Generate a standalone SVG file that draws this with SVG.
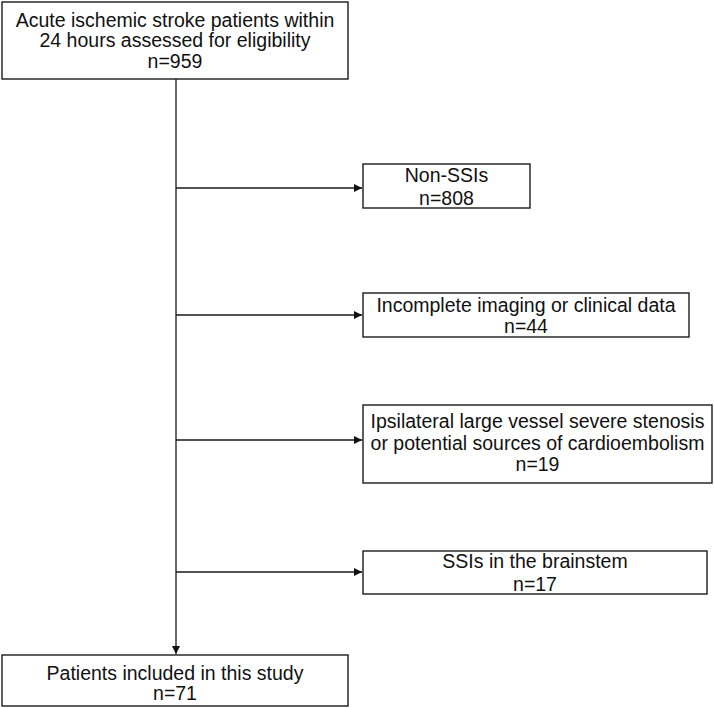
<svg xmlns="http://www.w3.org/2000/svg" width="714" height="708" viewBox="0 0 714 708">
  <style>
    .box { fill: #ffffff; stroke: #1a1a1a; stroke-width: 1.4; }
    .lbl { font-family: "Liberation Sans", Arial, sans-serif; font-size: 19.5px; fill: #111111; text-anchor: middle; }
    .conn { stroke: #1a1a1a; stroke-width: 1.3; fill: none; }
  </style>
  <defs>
    <marker id="arr" viewBox="0 0 10 10" refX="10" refY="5" markerWidth="10" markerHeight="8" markerUnits="userSpaceOnUse" orient="auto">
      <path d="M0,0 L10,5 L0,10 Z" fill="#111111"/>
    </marker>
  </defs>
  <rect x="0" y="0" width="714" height="708" fill="#ffffff"/>

  <g id="connectors">
    <line class="conn" x1="176" y1="79" x2="176" y2="654" marker-end="url(#arr)"/>
    <line class="conn" x1="176" y1="188" x2="362" y2="188" marker-end="url(#arr)"/>
    <line class="conn" x1="176" y1="315" x2="362" y2="315" marker-end="url(#arr)"/>
    <line class="conn" x1="176" y1="440" x2="362" y2="440" marker-end="url(#arr)"/>
    <line class="conn" x1="176" y1="572" x2="362" y2="572" marker-end="url(#arr)"/>
  </g>

  <g id="node-assessed">
    <rect class="box" x="2" y="2" width="346" height="77"/>
    <text class="lbl" x="175" y="27">Acute ischemic stroke patients within</text>
    <text class="lbl" x="175" y="47">24 hours assessed for eligibility</text>
    <text class="lbl" x="175" y="68">n=959</text>
  </g>

  <g id="node-nonssi">
    <rect class="box" x="363" y="164" width="167" height="44"/>
    <text class="lbl" x="446.5" y="182">Non-SSIs</text>
    <text class="lbl" x="446.5" y="205">n=808</text>
  </g>

  <g id="node-incomplete">
    <rect class="box" x="363" y="293" width="326" height="44"/>
    <text class="lbl" x="526" y="312">Incomplete imaging or clinical data</text>
    <text class="lbl" x="526" y="333">n=44</text>
  </g>

  <g id="node-stenosis">
    <rect class="box" x="363" y="405" width="349" height="78"/>
    <text class="lbl" x="537.5" y="428">Ipsilateral large vessel severe stenosis</text>
    <text class="lbl" x="537.5" y="450">or potential sources of cardioembolism</text>
    <text class="lbl" x="537.5" y="471">n=19</text>
  </g>

  <g id="node-brainstem">
    <rect class="box" x="363" y="551" width="344" height="43"/>
    <text class="lbl" x="535" y="568">SSIs in the brainstem</text>
    <text class="lbl" x="535" y="591">n=17</text>
  </g>

  <g id="node-included">
    <rect class="box" x="2" y="655" width="346" height="51"/>
    <text class="lbl" x="175" y="680">Patients included in this study</text>
    <text class="lbl" x="175" y="700">n=71</text>
  </g>
</svg>
